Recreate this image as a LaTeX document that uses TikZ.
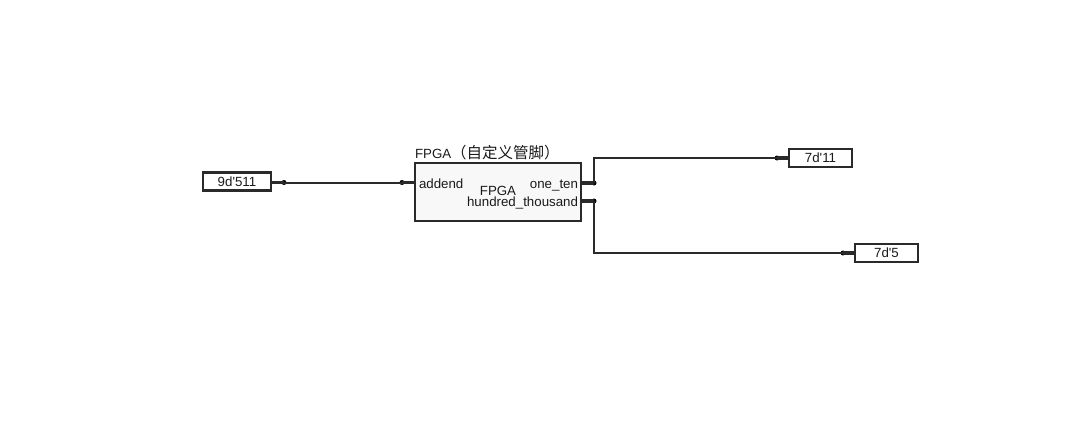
\documentclass[tikz,border=0pt]{standalone}
\usepackage{fontspec}
\setmainfont{Liberation Sans}[Ligatures=TeXOff]
\newfontfamily\cjk{Noto Sans CJK SC}
\definecolor{edge}{HTML}{2A2A2A}
\definecolor{ink}{HTML}{1A1A1A}
\definecolor{boxfill}{HTML}{F8F8F8}
\begin{document}
\begin{tikzpicture}[x=1pt,y=-1pt,
  every node/.style={inner sep=0pt,outer sep=0pt,font=\fontsize{13.3}{15}\selectfont,text=ink},
  constbox/.style={draw=edge,line width=2.2pt,fill=white,minimum height=18pt},
  stub/.style={draw=edge,line width=3.2pt},
  wire/.style={draw=edge,line width=2pt},
  junction/.style={circle,fill=black,minimum size=5pt}]
\useasboundingbox (0,0) rectangle (1073,431);
% module
\node[draw=edge,line width=2.2pt,fill=boxfill,minimum width=166pt,minimum height=58pt,anchor=north west] (fpga) at (415,163) {};
\node[anchor=base west] (title) at (415,158.5) {FPGA{\cjk\fontsize{15.5}{16}\selectfont（自定义管脚）}};
\node[anchor=base] (fname) at (498,195.5) {FPGA};
\node[anchor=base west] (laddend) at (419,188) {addend};
\node[anchor=base east] (lone) at (578,188) {one\_ten};
\node[anchor=base east] (lhun) at (578,206) {hundred\_thousand};
% ports
\coordinate (pin) at (415,182.5);
\coordinate (pone) at (581,183);
\coordinate (phun) at (581,201);
\node[junction] (jin) at (402,182.5) {};
\node[junction] (jone) at (594,183) {};
\node[junction] (jhun) at (594,201) {};
% constants
\node[constbox,minimum width=68pt] (c511) at (237,181.5) {9d'511};
\node[constbox,minimum width=63pt] (c11) at (820.5,158) {7d'11};
\node[constbox,minimum width=63pt] (c5) at (886.5,253) {7d'5};
\node[junction] (j511) at (284,182.5) {};
\node[junction] (j11) at (777,158) {};
\node[junction] (j5) at (843,253) {};
% stubs
\draw[stub] (c511.east |- j511) -- (j511.center);
\draw[stub] (jin.center) -- (pin);
\draw[stub] (pone) -- (jone.center);
\draw[stub] (phun) -- (jhun.center);
\draw[stub] (j11.center) -- (c11.west);
\draw[stub] (j5.center) -- (c5.west);
% wires
\draw[wire] (j511.center) -- (jin.center);
\draw[wire] (jone.center) |- (j11.center);
\draw[wire] (jhun.center) |- (j5.center);
\end{tikzpicture}
\end{document}
